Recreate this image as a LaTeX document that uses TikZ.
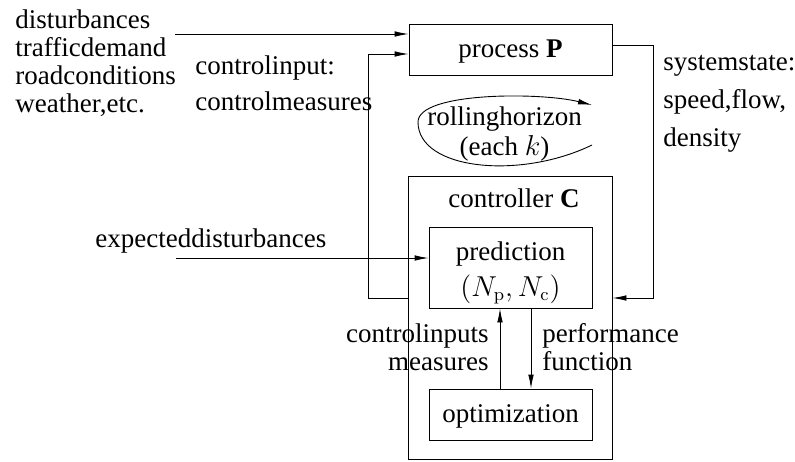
\documentclass[tikz,border=0pt]{standalone}
\usepackage[no-math]{fontspec}
\setmainfont{Liberation Serif}
\usetikzlibrary{arrows.meta,calc}
\tikzset{
	blk/.style={draw, line width=0.45pt, inner sep=0pt, align=center, font=\fontsize{13.5}{14}\selectfont},
	txt/.style={inner sep=0pt, font=\fontsize{13.5}{14}\selectfont},
	arr/.style={line width=0.45pt, -{Latex[length=7pt,width=2.8pt]}}
}

\begin{document}
\begin{tikzpicture}[x=0.5pt, y=-0.5pt]
	%%%%% START %%%%%
	\useasboundingbox (0, 0) rectangle (795, 461);
	
	% blocks
	\node[blk, minimum width=101.5pt, minimum height=25.5pt, text height=10pt, text depth=2pt] (proc) at (510.5, 49.5) {process \textbf{P}};
	\node[blk, minimum width=101.75pt, minimum height=141.5pt] (ctrl) at (510.25, 317.5) {};
	\node[blk, minimum width=81.5pt, minimum height=40.5pt] (pred) at (510.5, 267.5) {\rule{0pt}{15pt}prediction\\[4pt]$(N_\mathrm{p}, N_\mathrm{c})$};
	\node[blk, minimum width=81.5pt, minimum height=25.5pt, text height=10pt, text depth=2pt] (opt) at (510.5, 414.5) {optimization};
	
	% labels
	\node[txt, anchor=base] (ctrllab) at (514, 207) {controller \textbf{C}};
	\node[txt, anchor=north west, align=left] (distlab) at (15, 9) {disturbances\\trafficdemand\\roadconditions\\weather,etc.};
	\node[txt, anchor=north west, align=left] (uinlab) at (195, 55.6) {controlinput:\\[4pt]controlmeasures};
	\node[txt, anchor=north west, align=left] (statelab) at (663, 55) {systemstate:\\[4.75pt]speed,flow,\\[5pt]density};
	\node[txt, anchor=base west] (explab) at (95, 247) {expecteddisturbances};
	\node[txt, anchor=north east, align=right] (uoptlab) at (489, 323.5) {controlinputs\\measures};
	\node[txt, anchor=north west, align=left] (perflab) at (542, 323.5) {performance\\function};
	\node[txt, anchor=north, align=center] (rolllab) at (504.5, 106.6) {rollinghorizon\\[1pt](each $k$)};
	
	% corner points
	\coordinate (din) at (175, 34);
	\coordinate (lft) at (368, 54);
	\coordinate (lfb) at (368, 298);
	\coordinate (rtop) at (653, 45);
	\coordinate (rbot) at (653, 298);
	\coordinate (dexp) at (176, 258);
	
	\draw[arr] (din) -- (din -| proc.west);
	\draw[arr] (lfb -| ctrl.west) -- (lfb) -- (lft) -- (lft -| proc.west);
	\draw[arr] (rtop -| proc.east) -- (rtop) -- (rbot) -- (rbot -| ctrl.east);
	\draw[arr] (dexp) -- (dexp -| pred.west);
	\draw[arr] ([xshift=-5.25pt]opt.north) -- ([xshift=-5.25pt]pred.south);
	\draw[arr] ([xshift=10.25pt]pred.south) -- ([xshift=10.25pt]opt.north);
	
	% rolling horizon loop
	\draw[arr] (592, 145) .. controls (520, 180) and (418, 170) .. (418, 122) .. controls (418, 92) and (540, 92) .. (592, 105);
	
	%%%%% END %%%%%
\end{tikzpicture}
\end{document}
